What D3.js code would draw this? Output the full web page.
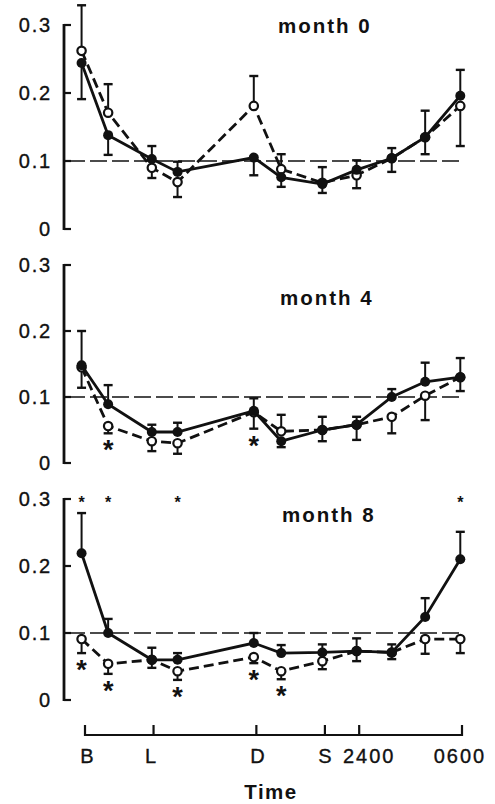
<!DOCTYPE html>
<html>
<head>
<meta charset="utf-8">
<script src="https://cdn.jsdelivr.net/npm/d3@7"></script>
<style>
  html, body { margin: 0; padding: 0; background: #fff; }
  svg { display: block; }
  text { font-family: "Liberation Sans", Arial, Helvetica, sans-serif; fill: #111; }
</style>
</head>
<body>
<svg id="chart" width="495" height="804"></svg>
<script>
// ---------------- data ----------------
const times = [7.8, 9.35, 11.9, 13.4, 17.85, 19.45, 21.85, 23.85, 25.9, 27.85, 29.9];
const tickTimes = [8, 12, 18, 22, 24, 30];
const tickLabels = ["B", "L", "D", "S", "2400", "0600"];
const yTicks = [0, 0.1, 0.2, 0.3];
const yTickLabels = ["0", "0.1", "0.2", "0.3"];
const refLevel = 0.1;
const panelTitles = ["month 0", "month 4", "month 8"];
const xTitle = "Time";

// month 0 (signed error: + drawn upward, - drawn downward)
const m0Filled    = [0.244, 0.138, 0.103, 0.084, 0.105, 0.076, 0.066, 0.087, 0.104, 0.135, 0.196];
const m0FilledErr = [-0.053, -0.029, 0.019, 0.015, -0.026, -0.014, -0.013, 0.014, 0.015, 0.039, 0.038];
const m0Open      = [0.262, 0.171, 0.090, 0.069, 0.181, 0.088, 0.068, 0.079, 0.104, 0.135, 0.181];
const m0OpenErr   = [0.067, 0.042, -0.015, -0.022, 0.044, 0.022, 0.023, -0.019, -0.020, -0.025, -0.059];
const m0SigBelow  = [];
const m0SigTop    = [];

// month 4
const m4Filled    = [0.148, 0.089, 0.047, 0.047, 0.079, 0.033, 0.050, 0.058, 0.100, 0.123, 0.130];
const m4FilledErr = [0.052, 0.029, 0.011, 0.014, 0.019, -0.009, 0.020, 0.012, 0.012, 0.029, 0.029];
const m4Open      = [0.145, 0.056, 0.033, 0.030, 0.077, 0.048, 0.050, 0.058, 0.070, 0.102, 0.130];
const m4OpenErr   = [-0.031, -0.011, -0.015, -0.016, -0.025, 0.025, -0.017, -0.023, -0.025, -0.037, -0.021];
const m4SigBelow  = [1, 4];
const m4SigTop    = [];

// month 8
const m8Filled    = [0.219, 0.100, 0.060, 0.060, 0.085, 0.070, 0.071, 0.073, 0.071, 0.124, 0.210];
const m8FilledErr = [0.060, 0.021, 0.018, 0.010, 0.015, 0.012, 0.012, 0.019, 0.012, 0.028, 0.041];
const m8Open      = [0.091, 0.054, 0.060, 0.043, 0.064, 0.043, 0.058, 0.073, 0.071, 0.091, 0.091];
const m8OpenErr   = [-0.021, -0.015, -0.012, -0.013, -0.009, -0.012, -0.012, -0.015, -0.010, -0.022, -0.021];
const m8SigBelow  = [0, 1, 3, 4, 5];
const m8SigTop    = [0, 1, 3, 10];

// ---------------- layout ----------------
const panels = [
  { title: panelTitles[0], filled: m0Filled, filledErr: m0FilledErr, open: m0Open, openErr: m0OpenErr, sigBelow: m0SigBelow, sigTop: m0SigTop,
    y0: 229, y1: 25, titleX: 278, titleY: 33 },
  { title: panelTitles[1], filled: m4Filled, filledErr: m4FilledErr, open: m4Open, openErr: m4OpenErr, sigBelow: m4SigBelow, sigTop: m4SigTop,
    y0: 463, y1: 265, titleX: 280, titleY: 305 },
  { title: panelTitles[2], filled: m8Filled, filledErr: m8FilledErr, open: m8Open, openErr: m8OpenErr, sigBelow: m8SigBelow, sigTop: m8SigTop,
    y0: 700, y1: 499, titleX: 282, titleY: 522 }
];

const svg = d3.select("#chart");
svg.append("rect").attr("width", 495).attr("height", 804).attr("fill", "#fff");

const x = d3.scaleLinear().domain([8, 30]).range([85, 462]);
const axisX = 64;
const ink = "#111";

panels.forEach(p => {
  const y = d3.scaleLinear().domain([0, 0.3]).range([p.y0, p.y1]);
  const g = svg.append("g");

  // y axis: bracket-like line with inward ticks
  g.append("line").attr("x1", axisX).attr("x2", axisX)
    .attr("y1", y(0) + 1).attr("y2", y(0.3) - 1)
    .attr("stroke", ink).attr("stroke-width", 2.8);
  yTicks.forEach((t, i) => {
    g.append("line").attr("x1", axisX).attr("x2", axisX + 7)
      .attr("y1", y(t)).attr("y2", y(t))
      .attr("stroke", ink).attr("stroke-width", 2.2);
    g.append("text").attr("x", 52).attr("y", y(t))
      .attr("text-anchor", "end").attr("dominant-baseline", "central")
      .attr("font-size", 20).attr("letter-spacing", 1.8)
      .attr("stroke", ink).attr("stroke-width", 0.35)
      .text(yTickLabels[i]);
  });

  // reference line at 0.1
  g.append("line").attr("x1", 68).attr("x2", 461)
    .attr("y1", y(refLevel)).attr("y2", y(refLevel))
    .attr("stroke", ink).attr("stroke-width", 1.3)
    .attr("stroke-dasharray", "17,5");

  // title
  g.append("text").attr("x", p.titleX).attr("y", p.titleY)
    .attr("font-size", 20.5).attr("font-weight", "bold").attr("letter-spacing", 2)
    .text(p.title);

  const line = d3.line().x((d, i) => x(times[i])).y(d => y(d));

  function drawErr(vals, errs) {
    vals.forEach((v, i) => {
      const e = errs[i];
      const xe = x(times[i]);
      const ye = y(v + e);
      g.append("line").attr("x1", xe).attr("x2", xe).attr("y1", y(v)).attr("y2", ye)
        .attr("stroke", ink).attr("stroke-width", 2);
      g.append("line").attr("x1", xe - 4.5).attr("x2", xe + 4.5).attr("y1", ye).attr("y2", ye)
        .attr("stroke", ink).attr("stroke-width", 2.4);
    });
  }

  // open series (dashed)
  drawErr(p.open, p.openErr);
  g.append("path").datum(p.open).attr("d", line)
    .attr("fill", "none").attr("stroke", ink).attr("stroke-width", 2.8)
    .attr("stroke-dasharray", "10,5");
  g.selectAll(null).data(p.open).enter().append("circle")
    .attr("cx", (d, i) => x(times[i])).attr("cy", d => y(d)).attr("r", 4.2)
    .attr("fill", "#fff").attr("stroke", ink).attr("stroke-width", 2.2);

  // filled series (solid)
  drawErr(p.filled, p.filledErr);
  g.append("path").datum(p.filled).attr("d", line)
    .attr("fill", "none").attr("stroke", ink).attr("stroke-width", 2.8);
  g.selectAll(null).data(p.filled).enter().append("circle")
    .attr("cx", (d, i) => x(times[i])).attr("cy", d => y(d)).attr("r", 5)
    .attr("fill", ink);

  // significance markers below open-series error bars
  p.sigBelow.forEach(i => {
    const v = p.open[i], e = p.openErr[i];
    const cy = y(Math.min(v, v + e)) + 11;
    g.append("text").attr("x", x(times[i])).attr("y", cy + 15)
      .attr("text-anchor", "middle").attr("font-size", 27).attr("font-weight", "bold")
      .text("*");
  });
  // small markers at the top
  p.sigTop.forEach(i => {
    g.append("text").attr("x", x(times[i])).attr("y", y(0.3) + 9)
      .attr("text-anchor", "middle").attr("font-size", 16).attr("font-weight", "bold")
      .text("*");
  });
});

// x axis
const xa = svg.append("g");
const axisY = 735;
xa.append("line").attr("x1", x(8)).attr("x2", x(30)).attr("y1", axisY).attr("y2", axisY)
  .attr("stroke", ink).attr("stroke-width", 2);
const labelDx = [3, -2, 2, 1, 10, -2];
tickTimes.forEach((t, i) => {
  xa.append("line").attr("x1", x(t)).attr("x2", x(t)).attr("y1", axisY + 1).attr("y2", axisY - 10)
    .attr("stroke", ink).attr("stroke-width", 2.2);
  xa.append("text").attr("x", x(t) + labelDx[i]).attr("y", 763)
    .attr("text-anchor", "middle").attr("font-size", 20).attr("letter-spacing", 2)
    .attr("stroke", ink).attr("stroke-width", 0.35)
    .text(tickLabels[i]);
});
xa.append("text").attr("x", 271).attr("y", 799)
  .attr("text-anchor", "middle").attr("font-size", 20.5).attr("font-weight", "bold").attr("letter-spacing", 1.5)
  .text(xTitle);
</script>
</body>
</html>
